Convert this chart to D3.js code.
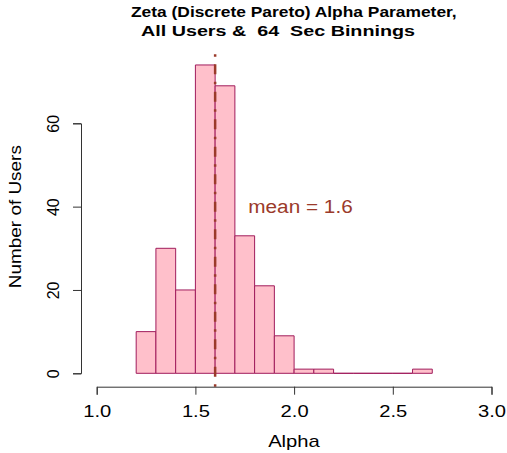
<!DOCTYPE html>
<html>
<head>
<meta charset="utf-8">
<script src="https://cdn.jsdelivr.net/npm/d3@7"></script>
<style>
  html, body { margin: 0; padding: 0; background: #fff; }
  text { font-family: "Liberation Sans", Arial, Helvetica, sans-serif; }
</style>
</head>
<body>
<svg id="chart" width="507" height="453"></svg>
<script>
// ---- data ----
const binStarts = [1.2, 1.3, 1.4, 1.5, 1.6, 1.7, 1.8, 1.9, 2.0, 2.1, 2.2, 2.3, 2.4, 2.5, 2.6];
const binWidth = 0.1;
const counts = [10, 30, 20, 74, 69, 33, 21, 9, 1, 1, 0, 0, 0, 0, 1];
const meanAlpha = 1.6;
const xTicks = [1.0, 1.5, 2.0, 2.5, 3.0];
const yTicks = [0, 20, 40, 60];
const titleLines = ["Zeta (Discrete Pareto) Alpha Parameter,", "All Users &  64  Sec Binnings"];
const xLabel = "Alpha";
const yLabel = "Number of Users";
const meanLabel = "mean = 1.6";

// ---- layout ----
const svg = d3.select("#chart");
const x = d3.scaleLinear().domain([1, 3]).range([96.7, 491.5]);
const y = d3.scaleLinear().domain([0, 60]).range([373.3, 123.3]);
const plotTop = 52.6, plotBottom = 386.7, axisX = 81;

const barFill = "#FFC0CB", barStroke = "#A01C5C", meanColor = "#9B3A2A";

// bars (as closed paths so zero-height bins still show as a line)
svg.append("g").selectAll("path")
  .data(binStarts.map((s, i) => ({s, c: counts[i]})))
  .join("path")
  .attr("d", d => {
    const x0 = x(d.s), x1 = x(d.s + binWidth), y0 = y(0), y1 = y(d.c);
    return `M${x0},${y0}V${y1}H${x1}V${y0}Z`;
  })
  .attr("fill", barFill)
  .attr("stroke", barStroke)
  .attr("stroke-width", 1);

// mean line (drawn bottom to top)
svg.append("line")
  .attr("x1", x(meanAlpha)).attr("x2", x(meanAlpha))
  .attr("y1", plotBottom).attr("y2", plotTop)
  .attr("stroke", meanColor)
  .attr("stroke-width", 2.5)
  .attr("stroke-dasharray", "2.5,7.5,10,7.5");

// x axis
const gx = svg.append("g")
  .attr("transform", `translate(0,${plotBottom})`)
  .call(d3.axisBottom(x).tickValues(xTicks).tickFormat(d3.format(".1f"))
        .tickSizeInner(8).tickSizeOuter(8).tickPadding(0));
gx.select(".domain").attr("stroke", "#333");
gx.selectAll(".tick line").attr("stroke", "#333");
gx.selectAll(".tick text")
  .attr("y", 30).attr("dy", 0)
  .attr("font-size", 16)
  .attr("font-family", "Liberation Sans, Arial, sans-serif")
  .attr("fill", "#000")
  .attr("textLength", 28).attr("lengthAdjust", "spacingAndGlyphs");

// y axis
const gy = svg.append("g")
  .attr("transform", `translate(${axisX},0)`)
  .call(d3.axisLeft(y).tickValues(yTicks).tickFormat(d3.format("d"))
        .tickSizeInner(8).tickSizeOuter(8).tickPadding(0));
gy.select(".domain").attr("stroke", "#333");
gy.selectAll(".tick line").attr("stroke", "#333");
gy.selectAll(".tick text")
  .attr("transform", "rotate(-90)")
  .attr("x", 0).attr("y", -22).attr("dy", 0)
  .attr("text-anchor", "middle")
  .attr("font-size", 16)
  .attr("font-family", "Liberation Sans, Arial, sans-serif")
  .attr("fill", "#000");

// title
const titleSpecs = [
  {t: titleLines[0], x0: 131, x1: 456.7, base: 17.3},
  {t: titleLines[1], x0: 141, x1: 415, base: 35.7}
];
svg.append("g").selectAll("text").data(titleSpecs).join("text")
  .attr("x", d => d.x0).attr("y", d => d.base)
  .attr("font-size", 15).attr("font-weight", "bold")
  .attr("textLength", d => d.x1 - d.x0).attr("lengthAdjust", "spacingAndGlyphs")
  .attr("xml:space", "preserve")
  .style("white-space", "pre")
  .text(d => d.t);

// x label
svg.append("text")
  .attr("x", 294).attr("y", 447.3)
  .attr("text-anchor", "middle")
  .attr("font-size", 17)
  .attr("textLength", 51.7).attr("lengthAdjust", "spacingAndGlyphs")
  .text(xLabel);

// y label
svg.append("text")
  .attr("transform", `translate(21,${(145 + 288.3) / 2}) rotate(-90)`)
  .attr("text-anchor", "middle")
  .attr("font-size", 17)
  .attr("textLength", 143).attr("lengthAdjust", "spacingAndGlyphs")
  .text(yLabel);

// mean label
svg.append("text")
  .attr("x", 248.3).attr("y", 213.3)
  .attr("font-size", 18)
  .attr("fill", meanColor)
  .attr("textLength", 104.4).attr("lengthAdjust", "spacingAndGlyphs")
  .text(meanLabel);
</script>
</body>
</html>
